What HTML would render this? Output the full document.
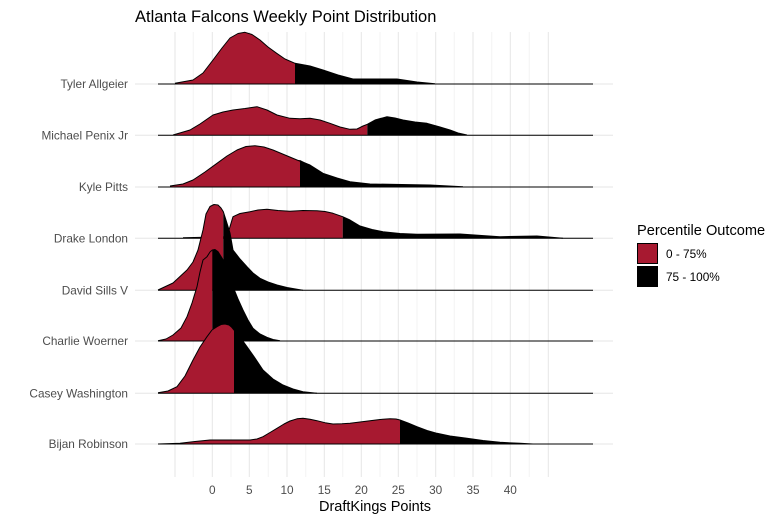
<!DOCTYPE html>
<html><head><meta charset="utf-8"><style>
body{margin:0;background:#fff;}
svg{display:block;font-family:"Liberation Sans",sans-serif;}
</style></head><body>
<svg width="781" height="520" viewBox="0 0 781 520" xmlns="http://www.w3.org/2000/svg">
<rect width="781" height="520" fill="#fff"/>
<g stroke="#f3f3f3" stroke-width="1">
<line x1="193.3" y1="32" x2="193.3" y2="477"/><line x1="231" y1="32" x2="231" y2="477"/><line x1="268.3" y1="32" x2="268.3" y2="477"/><line x1="305.7" y1="32" x2="305.7" y2="477"/><line x1="342.7" y1="32" x2="342.7" y2="477"/><line x1="380" y1="32" x2="380" y2="477"/><line x1="417" y1="32" x2="417" y2="477"/><line x1="454.3" y1="32" x2="454.3" y2="477"/><line x1="491.7" y1="32" x2="491.7" y2="477"/><line x1="529.3" y1="32" x2="529.3" y2="477"/>
</g>
<g stroke="#e6e6e6" stroke-width="1">
<line x1="175" y1="32" x2="175" y2="477"/><line x1="212.3" y1="32" x2="212.3" y2="477"/><line x1="249.3" y1="32" x2="249.3" y2="477"/><line x1="287" y1="32" x2="287" y2="477"/><line x1="324.3" y1="32" x2="324.3" y2="477"/><line x1="361.3" y1="32" x2="361.3" y2="477"/><line x1="398.3" y1="32" x2="398.3" y2="477"/><line x1="435.7" y1="32" x2="435.7" y2="477"/><line x1="473" y1="32" x2="473" y2="477"/><line x1="510.3" y1="32" x2="510.3" y2="477"/><line x1="548.3" y1="32" x2="548.3" y2="477"/>
<line x1="135" y1="84" x2="613" y2="84"/><line x1="135" y1="135.3" x2="613" y2="135.3"/><line x1="135" y1="187" x2="613" y2="187"/><line x1="135" y1="238.3" x2="613" y2="238.3"/><line x1="135" y1="290.3" x2="613" y2="290.3"/><line x1="135" y1="341" x2="613" y2="341"/><line x1="135" y1="393.3" x2="613" y2="393.3"/><line x1="135" y1="444" x2="613" y2="444"/>
</g>
<g stroke-linejoin="round">
<!-- Tyler -->
<polygon fill="#a71930" points="175,84 175,83.3 193,80 203,73 213,60 222,48 230,38 238,33.5 245,32.3 252,34.5 260,40 268,47 276.7,53.3 285,59 295,63.3 295,84"/>
<polygon fill="#000" points="295,84 295,63.3 310,66 323,70 338,75 353,79 383,79 397,79 417,82 435,83.7 435,84"/>
<polyline fill="none" stroke="#000" stroke-width="1" points="175,83.3 193,80 203,73 213,60 222,48 230,38 238,33.5 245,32.3 252,34.5 260,40 268,47 276.7,53.3 285,59 295,63.3 310,66 323,70 338,75 353,79 383,79 397,79 417,82 435,83.7"/>
<line x1="158" y1="84" x2="593" y2="84" stroke="#000"/>
<!-- Michael -->
<polygon fill="#a71930" points="173,135.3 173,135 190,130 200,124 213,115 223,112 233,110 245,108.5 257,106.7 267,110 277,115 290,118.3 300,118.7 310,118.3 320,120 330,123.3 340,127 350,129.3 357,129 363,126 367.3,124.3 367.3,135.3"/>
<polygon fill="#000" points="367.3,135.3 367.3,124.3 375,120 387,116.7 395,118 403,120 415,122 427,123.3 440,127 450,130 458,133 467,135 467,135.3"/>
<polyline fill="none" stroke="#000" points="173,135 190,130 200,124 213,115 223,112 233,110 245,108.5 257,106.7 267,110 277,115 290,118.3 300,118.7 310,118.3 320,120 330,123.3 340,127 350,129.3 357,129 363,126 367.3,124.3 375,120 387,116.7 395,118 403,120 415,122 427,123.3 440,127 450,130 458,133 467,135"/>
<line x1="158" y1="135.3" x2="593" y2="135.3" stroke="#000"/>
<!-- Kyle -->
<polygon fill="#a71930" points="170,187 170,186 183,184 193,180 205,172 217,163.3 227,156 237,150 246,146.5 255,145.7 264,147 273,150 285,155 297,160 300,160 300,187"/>
<polygon fill="#000" points="300,187 300,160 310,165 323,173.3 337,178 350,181.7 370,184 430,185 463,186.7 463,187"/>
<polyline fill="none" stroke="#000" points="170,186 183,184 193,180 205,172 217,163.3 227,156 237,150 246,146.5 255,145.7 264,147 273,150 285,155 297,160 310,165 323,173.3 337,178 350,181.7 370,184 430,185 463,186.7"/>
<line x1="158" y1="187" x2="593" y2="187" stroke="#000"/>
<!-- Drake -->
<polygon fill="#a71930" points="183,238.3 183,237.7 227,236.7 233,216.7 240,213.5 250,211.7 258,210 267,209.3 278,210.5 290,211.3 303,210.5 317,210.7 325,211.5 333,213.3 342.7,216.7 342.7,238.3"/>
<polygon fill="#000" points="342.7,238.3 342.7,216.7 350,220 360,226 372,229.5 383,231.7 400,233.5 417,234.3 460,234 500,236.7 537,236 563,238.3"/>
<polyline fill="none" stroke="#000" points="183,237.7 227,236.7 233,216.7 240,213.5 250,211.7 258,210 267,209.3 278,210.5 290,211.3 303,210.5 317,210.7 325,211.5 333,213.3 342.7,216.7 350,220 360,226 372,229.5 383,231.7 400,233.5 417,234.3 460,234 500,236.7 537,236 563,238.3"/>
<line x1="158" y1="238.3" x2="593" y2="238.3" stroke="#000"/>
<!-- David -->
<polygon fill="#a71930" points="158,290.3 158,290 173,283 187,270 193,262 198,250 203,230 206,214 210,206.5 214,204.5 218,205 221,208 223.3,211.7 223.3,290.3"/>
<polygon fill="#000" points="223.3,290.3 223.3,211.7 226,220 230,233 233,250 240,259 247,266.7 253,273 260,278.3 268,282 277,285 287,287.5 297,289.3 303,290.3"/>
<polyline fill="none" stroke="#000" points="158,290 173,283 187,270 193,262 198,250 203,230 206,214 210,206.5 214,204.5 218,205 221,208 223.3,211.7 226,220 230,233 233,250 240,259 247,266.7 253,273 260,278.3 268,282 277,285 287,287.5 297,289.3 303,290.3"/>
<line x1="158" y1="290.3" x2="593" y2="290.3" stroke="#000"/>
<!-- Charlie -->
<polygon fill="#a71930" points="158,341 158,340.7 166,339 173,335 181,328 187,316.7 192,303 197,286.7 200,272 203,260 207,256.7 210,252 212.3,250 212.3,341"/>
<polygon fill="#000" points="212.3,341 212.3,250 215,249.5 218,251.7 222,258 227,266.7 233,286.7 238,299 243,310 248,320 253,328.3 260,334 267,337.3 273,339.5 280,340.7 280,341"/>
<polyline fill="none" stroke="#000" points="158,340.7 166,339 173,335 181,328 187,316.7 192,303 197,286.7 200,272 203,260 207,256.7 210,252 212.3,250 215,249.5 218,251.7 222,258 227,266.7 233,286.7 238,299 243,310 248,320 253,328.3 260,334 267,337.3 273,339.5 280,340.7"/>
<line x1="158" y1="341" x2="593" y2="341" stroke="#000"/>
<!-- Casey -->
<polygon fill="#a71930" points="158,393.3 158,392.7 168,391 177,386.7 185,376 193,360 200,347 207,336.7 212,330 217,326.7 221,324.5 225,324 229,325 231.7,327.3 234,330 234,393.3"/>
<polygon fill="#000" points="234,393.3 234,330 240,337 247,346.7 255,358 263,370 273,379 283,385 293,389 303,391.7 317,393.3"/>
<polyline fill="none" stroke="#000" points="158,392.7 168,391 177,386.7 185,376 193,360 200,347 207,336.7 212,330 217,326.7 221,324.5 225,324 229,325 231.7,327.3 234,330 240,337 247,346.7 255,358 263,370 273,379 283,385 293,389 303,391.7 317,393.3"/>
<line x1="158" y1="393.3" x2="593" y2="393.3" stroke="#000"/>
<!-- Bijan -->
<polygon fill="#a71930" points="158,444 158,444 180,443.3 195,441.5 210,440 230,440 250,440 257,439 263,436.7 270,432.5 277,428.3 284,424 290,421 297,418.8 303,418.3 310,419.3 317,420.7 325,422.7 333,424 342,423.8 350,423.3 360,422 370,420.7 380,419.5 390,418.7 396,419 400,420 400,444"/>
<polygon fill="#000" points="400,444 400,420 408,423 417,426.7 427,430.5 437,433.3 450,436 467,438.3 483,440.5 500,442.3 520,443.3 533,444"/>
<polyline fill="none" stroke="#000" points="158,444 180,443.3 195,441.5 210,440 230,440 250,440 257,439 263,436.7 270,432.5 277,428.3 284,424 290,421 297,418.8 303,418.3 310,419.3 317,420.7 325,422.7 333,424 342,423.8 350,423.3 360,422 370,420.7 380,419.5 390,418.7 396,419 400,420 408,423 417,426.7 427,430.5 437,433.3 450,436 467,438.3 483,440.5 500,442.3 520,443.3 533,444"/>
<line x1="158" y1="444" x2="593" y2="444" stroke="#000"/>
</g>
<g font-size="11.8" fill="#4d4d4d" text-anchor="end">
<text x="128" y="88">Tyler Allgeier</text>
<text x="128" y="139.5">Michael Penix Jr</text>
<text x="128" y="191">Kyle Pitts</text>
<text x="128" y="242.5">Drake London</text>
<text x="128" y="294.5">David Sills V</text>
<text x="128" y="345">Charlie Woerner</text>
<text x="128" y="397.5">Casey Washington</text>
<text x="128" y="448">Bijan Robinson</text>
</g>
<g font-size="11.8" fill="#4d4d4d" text-anchor="middle">
<text x="212.3" y="494">0</text><text x="249.3" y="494">5</text><text x="287" y="494">10</text><text x="324.3" y="494">15</text><text x="361.3" y="494">20</text><text x="398.3" y="494">25</text><text x="435.7" y="494">30</text><text x="473" y="494">35</text><text x="510.3" y="494">40</text>
</g>
<text x="375" y="511" font-size="14.5" text-anchor="middle" fill="#000">DraftKings Points</text>
<text x="135" y="22" font-size="16.5" fill="#000">Atlanta Falcons Weekly Point Distribution</text>
<text x="637" y="235" font-size="14.6" fill="#000">Percentile Outcome</text>
<rect x="637.5" y="243.5" width="20" height="20" fill="#a71930" stroke="#000" stroke-width="1"/>
<rect x="637" y="266" width="21" height="21" fill="#000"/>
<text x="666" y="258" font-size="11.8" fill="#000">0 - 75%</text>
<text x="666" y="281" font-size="11.8" fill="#000">75 - 100%</text>
</svg>
</body></html>
